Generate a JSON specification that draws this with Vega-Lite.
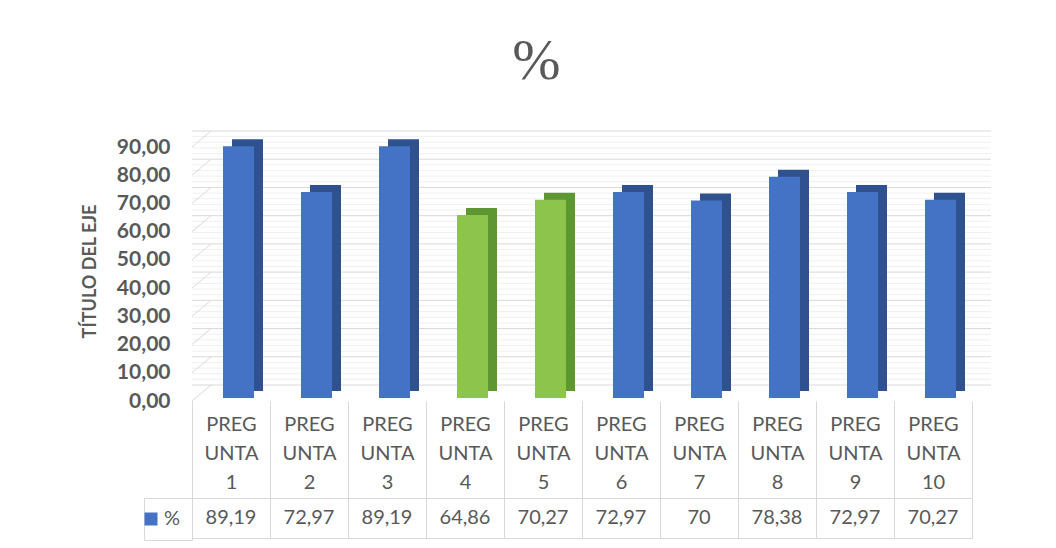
{
  "$schema": "https://vega.github.io/schema/vega-lite/v6.json",
  "background": "white",
  "padding": {"left": 81, "top": 32, "right": 5, "bottom": 5},
  "title": {
    "text": "%",
    "font": "Liberation Serif",
    "fontSize": 58,
    "fontWeight": "normal",
    "color": "#595959",
    "anchor": "middle",
    "offset": 40
  },
  "config": {
    "locale": {"number": {"decimal": ",", "thousands": ".", "grouping": [3], "currency": ["", " €"]}},
    "font": "Lato",
    "view": {"stroke": null},
    "axisY": {
      "grid": false,
      "domain": false,
      "ticks": false,
      "labelOverlap": false,
      "labelPadding": 22,
      "labelOffset": 3,
      "labelFont": "Lato",
      "labelFontSize": 21,
      "labelFontWeight": "bold",
      "labelColor": "#595959",
      "titleFont": "Lato",
      "titleFontSize": 18,
      "titleFontWeight": "bold",
      "titleColor": "#595959",
      "titlePadding": 17
    }
  },
  "datasets": {
    "preguntas": [
      {"pregunta": "PREGUNTA 1", "pct": 89.19},
      {"pregunta": "PREGUNTA 2", "pct": 72.97},
      {"pregunta": "PREGUNTA 3", "pct": 89.19},
      {"pregunta": "PREGUNTA 4", "pct": 64.86},
      {"pregunta": "PREGUNTA 5", "pct": 70.27},
      {"pregunta": "PREGUNTA 6", "pct": 72.97},
      {"pregunta": "PREGUNTA 7", "pct": 70},
      {"pregunta": "PREGUNTA 8", "pct": 78.38},
      {"pregunta": "PREGUNTA 9", "pct": 72.97},
      {"pregunta": "PREGUNTA 10", "pct": 70.27}
    ],
    "rejilla_mayor": [
      {"nivel": 0}, {"nivel": 10}, {"nivel": 20}, {"nivel": 30}, {"nivel": 40},
      {"nivel": 50}, {"nivel": 60}, {"nivel": 70}, {"nivel": 80}, {"nivel": 90}
    ],
    "rejilla_menor": [
      {"nivel": 2}, {"nivel": 4}, {"nivel": 6}, {"nivel": 8},
      {"nivel": 12}, {"nivel": 14}, {"nivel": 16}, {"nivel": 18},
      {"nivel": 22}, {"nivel": 24}, {"nivel": 26}, {"nivel": 28},
      {"nivel": 32}, {"nivel": 34}, {"nivel": 36}, {"nivel": 38},
      {"nivel": 42}, {"nivel": 44}, {"nivel": 46}, {"nivel": 48},
      {"nivel": 52}, {"nivel": 54}, {"nivel": 56}, {"nivel": 58},
      {"nivel": 62}, {"nivel": 64}, {"nivel": 66}, {"nivel": 68},
      {"nivel": 72}, {"nivel": 74}, {"nivel": 76}, {"nivel": 78},
      {"nivel": 82}, {"nivel": 84}, {"nivel": 86}, {"nivel": 88}
    ]
  },
  "bounds": "flush",
  "spacing": 100,
  "resolve": {"legend": {"color": "independent"}},
  "vconcat": [
    {
      "width": 780,
      "height": 254,
      "layer": [
        {
          "data": {"name": "rejilla_menor"},
          "mark": {"type": "rule", "color": "#f0f0f0", "strokeWidth": 1, "xOffset": 19, "yOffset": -13},
          "encoding": {
            "y": {
              "field": "nivel",
              "type": "quantitative",
              "scale": {"domain": [0, 90], "nice": false},
              "axis": {"values": [0, 10, 20, 30, 40, 50, 60, 70, 80, 90], "format": ".2f", "title": "TÍTULO DEL EJE"}
            }
          }
        },
        {
          "data": {"name": "rejilla_mayor"},
          "mark": {"type": "rule", "color": "#d9d9d9", "strokeWidth": 1, "xOffset": 19, "yOffset": -13},
          "encoding": {
            "y": {
              "field": "nivel",
              "type": "quantitative",
              "axis": {"values": [0, 10, 20, 30, 40, 50, 60, 70, 80, 90], "format": ".2f", "title": "TÍTULO DEL EJE"}
            }
          }
        },
        {
          "data": {"name": "rejilla_mayor"},
          "mark": {"type": "rule", "color": "#d9d9d9", "strokeWidth": 1, "xOffset": -39, "x2Offset": -20, "yOffset": 3, "y2Offset": -13},
          "encoding": {
            "x": {"datum": "PREGUNTA 1", "type": "nominal"},
            "x2": {"datum": "PREGUNTA 1"},
            "y": {
              "field": "nivel",
              "type": "quantitative",
              "axis": {"values": [0, 10, 20, 30, 40, 50, 60, 70, 80, 90], "format": ".2f", "title": "TÍTULO DEL EJE"}
            },
            "y2": {"field": "nivel"}
          }
        },
        {
          "data": {"name": "preguntas"},
          "mark": {"type": "bar", "width": 31, "xOffset": 16.5, "yOffset": -7, "y2Offset": -7},
          "encoding": {
            "x": {"field": "pregunta", "type": "nominal", "sort": null},
            "y": {
              "field": "pct",
              "type": "quantitative",
              "axis": {"values": [0, 10, 20, 30, 40, 50, 60, 70, 80, 90], "format": ".2f", "title": "TÍTULO DEL EJE"}
            },
            "color": {
              "condition": {"test": {"field": "pregunta", "oneOf": ["PREGUNTA 4", "PREGUNTA 5"]}, "value": "#5e9732"},
              "value": "#2f528f"
            }
          }
        },
        {
          "data": {"name": "preguntas"},
          "mark": {"type": "bar", "width": 31, "xOffset": 7.5},
          "encoding": {
            "x": {
              "field": "pregunta",
              "type": "nominal",
              "sort": null,
              "scale": {"paddingInner": 0, "paddingOuter": 0},
              "axis": {
                "orient": "bottom",
                "title": null,
                "offset": 3,
                "domain": false,
                "tickBand": "extent",
                "tickSize": 137,
                "tickColor": "#d9d9d9",
                "tickWidth": 1,
                "labelAngle": 0,
                "labelAlign": "center",
                "labelExpr": "isString(datum.value) ? [substring(datum.value, 0, 4), substring(datum.value, 4, 8), substring(datum.value, 9)] : ''",
                "labelFont": "Lato",
                "labelFontSize": 20,
                "labelColor": "#595959",
                "labelLineHeight": 29,
                "labelBaseline": "top",
                "labelPadding": -124
              }
            },
            "y": {
              "field": "pct",
              "type": "quantitative",
              "axis": {"values": [0, 10, 20, 30, 40, 50, 60, 70, 80, 90], "format": ".2f", "title": "TÍTULO DEL EJE"}
            },
            "color": {
              "condition": {"test": {"field": "pregunta", "oneOf": ["PREGUNTA 4", "PREGUNTA 5"]}, "value": "#8cc44c"},
              "value": "#4472c4"
            }
          }
        }
      ]
    },
    {
      "width": 780,
      "height": 40,
      "view": {"stroke": "#d9d9d9", "strokeWidth": 1},
      "data": {"name": "preguntas"},
      "layer": [
        {
          "mark": {"type": "text", "font": "Lato", "fontSize": 20, "color": "#595959"},
          "encoding": {
            "x": {"field": "pregunta", "type": "nominal", "sort": null, "axis": null},
            "text": {"field": "pct", "type": "quantitative", "format": ".2~f"}
          }
        },
        {
          "mark": {"type": "square", "opacity": 0},
          "encoding": {
            "x": {"field": "pregunta", "type": "nominal", "sort": null, "axis": null},
            "color": {
              "datum": "%",
              "type": "nominal",
              "scale": {"range": ["#4472c4"]},
              "legend": {
                "orient": "left",
                "offset": 0,
                "title": null,
                "symbolType": "square",
                "symbolSize": 169,
                "symbolOpacity": 1,
                "symbolStrokeWidth": 0,
                "symbolOffset": -14,
                "labelFont": "Lato",
                "labelFontSize": 20,
                "labelColor": "#595959",
                "labelOffset": 3,
                "strokeColor": "#d9d9d9",
                "padding": 11
              }
            }
          }
        }
      ]
    }
  ]
}
